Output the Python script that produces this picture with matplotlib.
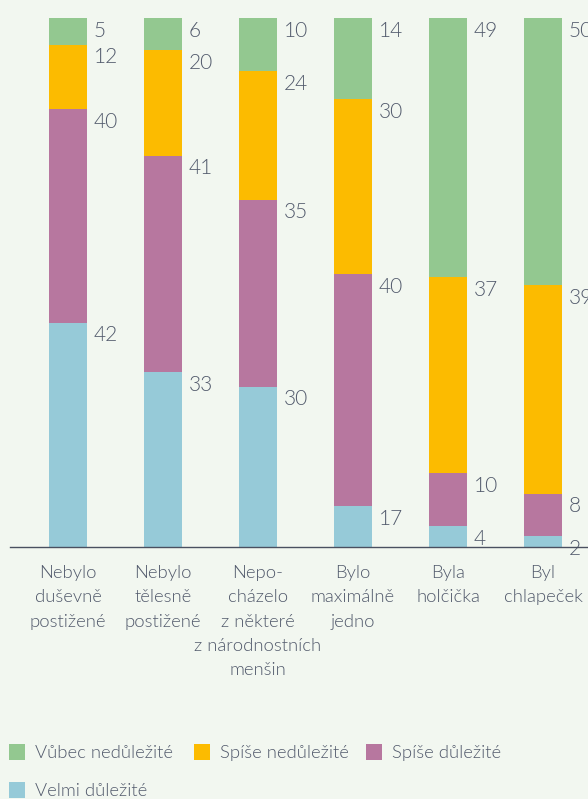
import matplotlib
matplotlib.use("Agg")
import matplotlib.pyplot as plt
from matplotlib.patches import Rectangle
import numpy as np

categories = ["Nebylo\nduševně\npostižené", "Nebylo\ntělesně\npostižené",
              "Nepo-\ncházelo\nz některé\nz národnostních\nmenšin",
              "Bylo\nmaximálně\njedno", "Byla\nholčička", "Byl\nchlapeček"]
series_names = ["Velmi důležité", "Spíše důležité", "Spíše nedůležité", "Vůbec nedůležité"]
# drawn segment sizes (as they appear in the picture)
velmi = [42, 33, 30, 7, 4, 2]
spise_dul = [40, 41, 35, 40, 10, 8]
spise_nedul = [12, 20, 24, 30, 37, 39]
vubec = [5, 6, 10, 14, 49, 50]
# printed labels
velmi_labels = ["42", "33", "30", "17", "4", "2"]
spise_dul_labels = ["40", "41", "35", "40", "10", "8"]
spise_nedul_labels = ["12", "20", "24", "30", "37", "39"]
vubec_labels = ["5", "6", "10", "14", "49", "50"]
colors = ["#96cad8", "#b7779f", "#fcbb00", "#93c890"]

BG = "#f2f7f0"
TXT = "#525a6c"
FONT = ["Lato", "DejaVu Sans"]
WEIGHT = 300

W, H = 588, 799
fig = plt.figure(figsize=(W / 100, H / 100), dpi=100, facecolor=BG)
left_px, right_px = 10, 588
bot_px, top_px = 547, 18
ax = fig.add_axes([left_px / W, (H - bot_px) / H, (right_px - left_px) / W, (bot_px - top_px) / H])
ax.set_facecolor(BG)

data = np.array([velmi, spise_dul, spise_nedul, vubec], dtype=float)
labels = [velmi_labels, spise_dul_labels, spise_nedul_labels, vubec_labels]
totals = data.sum(axis=0)
norm = data / totals * 100
x = np.arange(len(categories))
spacing = 95.0
ax.set_xlim(-(68 - left_px) / spacing, (right_px - 68) / spacing)
ax.set_ylim(0, 100)

bottom = np.zeros(len(categories))
for k in range(4):
    ax.bar(x, norm[k], bottom=bottom, width=0.4, color=colors[k], linewidth=0, zorder=2)
    for i in range(len(categories)):
        top = bottom[i] + norm[k][i]
        ax.annotate(labels[k][i], (x[i] + 0.2, top), xytext=(5, -2),
                    textcoords="offset points", ha="left", va="top",
                    fontsize=15, color=TXT, family=FONT, fontweight=WEIGHT,
                    annotation_clip=False)
    bottom += norm[k]

for s in ["top", "right", "left"]:
    ax.spines[s].set_visible(False)
ax.spines["bottom"].set_color("#4a5060")
ax.spines["bottom"].set_linewidth(1.0)
ax.spines["bottom"].set_zorder(3)
ax.set_yticks([])
ax.set_xticks([])

for i, c in enumerate(categories):
    ax.annotate(c, (x[i], 0), xytext=(0, -13), textcoords="offset points",
                ha="center", va="top", fontsize=13.3, color=TXT, family=FONT,
                fontweight=WEIGHT, linespacing=1.64, annotation_clip=False)

# legend
leg_items = [(3, 9, 744), (2, 194, 744), (1, 366, 744), (0, 9, 782)]
sq = 16
for k, lx, ly in leg_items:
    fig.patches.append(Rectangle((lx / W, (H - ly - sq) / H), sq / W, sq / H,
                                 transform=fig.transFigure, facecolor=colors[k],
                                 edgecolor="none"))
    fig.text((lx + 26) / W, (H - ly - sq / 2 - 1) / H, series_names[k], ha="left",
             va="center", fontsize=13.3, color=TXT, family=FONT, fontweight=WEIGHT)

fig.savefig("out.png", dpi=100, facecolor=BG)
